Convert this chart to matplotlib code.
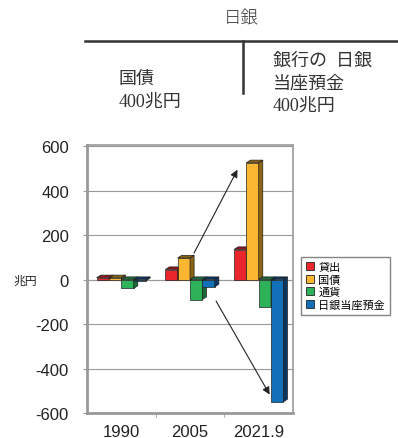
import numpy as np
import matplotlib.pyplot as plt
from matplotlib.patches import Rectangle, Polygon, Patch

# data (兆円)
years = ['1990', '2005', '2021.9']
series = ['貸出', '国債', '通貨', '日銀当座預金']
lending = [8, 45, 135]
jgb = [8, 97, 525]
currency = [-40, -90, -122]
deposits = [-5, -33, -550]
values = [lending, jgb, currency, deposits]

front = ['#e8262b', '#fbb731', '#2db25a', '#1170b8']
side = ['#8e1418', '#8a6412', '#1b6a35', '#0b3560']

CJK = ['Noto Sans CJK JP', 'DejaVu Sans']
SERIF = ['Liberation Serif', 'Noto Sans CJK JP']

fig = plt.figure(figsize=(3.98, 4.39), dpi=100)

# T-account at the top
fig.text(241/398, 1-18/439, '日銀', ha='center', va='center', fontsize=12.5,
         family=CJK, fontweight='light', color='#333')
fig.add_artist(plt.Line2D([85/398, 1.0], [1-42/439]*2, color='#333', lw=1.8))
fig.add_artist(plt.Line2D([243/398]*2, [1-42/439, 1-94/439], color='#333', lw=1.8))
tkw = dict(ha='left', va='center', fontsize=13, family=SERIF, color='#333')
fig.text(119/398, 1-79/439, '国債', **tkw)
fig.text(119/398, 1-102/439, '400兆円', **tkw)
fig.text(273/398, 1-61/439, '銀行の  日銀', **tkw)
fig.text(273/398, 1-84/439, '当座預金', **tkw)
fig.text(273/398, 1-106/439, '400兆円', **tkw)

ax = fig.add_axes([87/398, 1-414/439, 206/398, 268/439])
ax.set_xlim(0.5, 3.5)
ax.set_ylim(-600, 605)

w = 0.18
dx, dy = 0.06, 12
x = np.arange(1, len(years) + 1)

for j, vals in enumerate(values):
    for i, v in enumerate(vals):
        x0 = x[i] + (j - 1.5) * w - w/2
        x1 = x0 + w
        y0, y1 = min(0, v), max(0, v)
        z = 3 + j
        ax.add_patch(Rectangle((x0, y0), w, y1 - y0, facecolor=front[j],
                               edgecolor='#222', lw=0.5, zorder=z))
        ax.add_patch(Polygon([(x1, y0), (x1+dx, y0+dy), (x1+dx, y1+dy), (x1, y1)],
                             facecolor=side[j], edgecolor='#222', lw=0.5, zorder=z))
        ax.add_patch(Polygon([(x0, y1), (x0+dx, y1+dy), (x1+dx, y1+dy), (x1, y1)],
                             facecolor=side[j], edgecolor='#222', lw=0.5, zorder=z))

# arrows
jx = x[1] + 0.5*w
ax.annotate('', xy=(x[2] + 0.5*w - w/2 - 0.29, jgb[2] - 20),
            xytext=(jx - 0.05, jgb[1] + 11),
            arrowprops=dict(arrowstyle='-|>', color='#222', lw=0.8, mutation_scale=11),
            zorder=10)
bx = x[1] + 1.5*w
ax.annotate('', xy=(x[2] + 1.5*w - w/2, deposits[2] + 22),
            xytext=(bx + w/2, -86),
            arrowprops=dict(arrowstyle='-|>', color='#222', lw=0.8, mutation_scale=11),
            zorder=10)

ax.set_yticks(np.arange(-600, 601, 200))
ax.set_yticklabels([str(t) for t in range(-600, 601, 200)], fontsize=12,
                   family='Liberation Sans', color='#222')
ax.yaxis.grid(True, color='#999', lw=0.8)
ax.axhline(0, color='#999', lw=0.8, zorder=2)
ax.set_axisbelow(True)
ax.tick_params(axis='y', length=3, color='#999', pad=10)

ax.set_xticks(x)
ax.set_xticklabels(years, fontsize=12, family='Liberation Sans', color='#222')
ax.set_xticks([1.5, 2.5], minor=True)
ax.tick_params(axis='x', which='major', length=0, pad=8)
ax.tick_params(axis='x', which='minor', length=3, color='#999')

for s in ax.spines.values():
    s.set_color('#999')
    s.set_linewidth(1.2)
ax.spines['left'].set_linewidth(2.0)
ax.spines['bottom'].set_linewidth(2.0)

fig.text(25/398, 1-281/439, '兆円', ha='center', va='center', fontsize=8.5,
         family=CJK, color='#222')

handles = [Patch(facecolor=c, edgecolor='#222', lw=0.6) for c in front]
fig.legend(handles, series, loc='upper left', bbox_to_anchor=(301/398, 1-258/439),
           prop={'family': CJK, 'size': 8}, frameon=True, fancybox=False,
           edgecolor='#666', handlelength=0.7, handleheight=0.7, handletextpad=0.4,
           labelspacing=0.2, borderpad=0.45, borderaxespad=0)

fig.savefig('out.png', dpi=100)
